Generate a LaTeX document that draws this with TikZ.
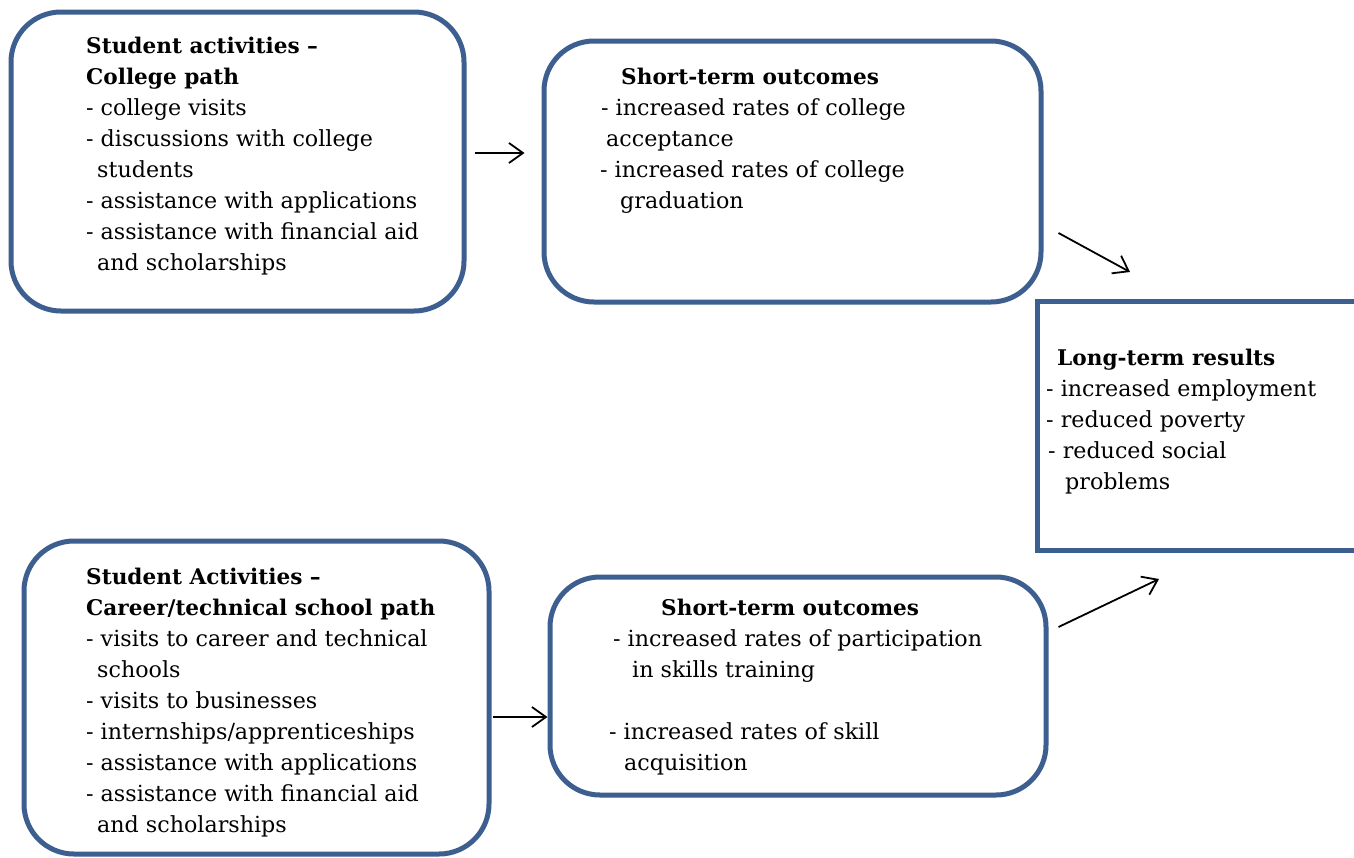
\documentclass[tikz,border=0pt]{standalone}
\usepackage{fontspec}
\setmainfont{DejaVu Serif}
\usetikzlibrary{arrows.meta}
\definecolor{boxblue}{RGB}{60,95,143}
\newcommand{\boxtitle}[1]{{\fontsize{21.6}{31}\selectfont\bfseries #1}}
\begin{document}
\begin{tikzpicture}[x=1pt,y=-1pt,
  box/.style={draw=boxblue, line width=5pt, rounded corners=50pt, fill=white, inner sep=0pt},
  sqbox/.style={draw=boxblue, line width=5pt, fill=white, inner sep=0pt},
  txt/.style={anchor=north west, inner sep=0pt, align=left, font=\fontsize{22.2}{31}\selectfont},
  arr/.style={-{Straight Barb[length=14pt,width=20pt]}, line width=1.8pt, black}]
\clip (0,0) rectangle (1354,857);
\fill[white] (0,0) rectangle (1354,857);
% boxes
\node[box, minimum width=453pt, minimum height=299pt] (b1) at (237.5,161.5) {};
\node[box, minimum width=497pt, minimum height=261pt] (b2) at (792.5,171.5) {};
\node[sqbox, minimum width=363pt, minimum height=249pt] (b3) at (1218.5,425.5) {};
\node[box, minimum width=465pt, minimum height=313pt] (b4) at (256.5,697.5) {};
\node[box, minimum width=496pt, minimum height=218pt] (b5) at (798,686) {};
% texts
\node[txt] (t1) at (86,37) {\boxtitle{Student activities --}\\
\boxtitle{College path}\\
- college visits\\
- discussions with college\\
\hspace*{11pt}students\\
- assistance with applications\\
- assistance with financial aid\\
\hspace*{11pt}and scholarships};
\node[txt] (t2) at (600,68) {\hspace*{21pt}\boxtitle{Short-term outcomes}\\
\hspace*{1pt}- increased rates of college\\
\hspace*{6pt}acceptance\\
- increased rates of college\\
\hspace*{20pt}graduation};
\node[txt] (t3) at (1046,349) {\hspace*{11pt}\boxtitle{Long-term results}\\
- increased employment\\
- reduced poverty\\
\hspace*{2pt}- reduced social\\
\hspace*{19pt}problems};
\node[txt] (t4) at (86,568) {\boxtitle{Student Activities --}\\
\boxtitle{Career/technical school path}\\
- visits to career and technical\\
\hspace*{11pt}schools\\
- visits to businesses\\
- internships/apprenticeships\\
- assistance with applications\\
- assistance with financial aid\\
\hspace*{11pt}and scholarships};
\node[txt] (t5) at (609,599) {\hspace*{52pt}\boxtitle{Short-term outcomes}\\
\hspace*{4pt}- increased rates of participation\\
\hspace*{23pt}in skills training\\[31pt]
- increased rates of skill\\
\hspace*{15pt}acquisition};
% arrows
\draw[arr] ([shift={(8,-8.5)}]b1.east) -- ([shift={(-17,-18.5)}]b2.west);
\draw[arr] ([shift={(15,61.5)}]b2.east) -- ([shift={(-88.5,-26.5)}]b3.north);
\draw[arr] ([shift={(1,19.5)}]b4.east) -- ([shift={(0,31)}]b5.west);
\draw[arr] ([shift={(10,-59)}]b5.east) -- ([shift={(-59.5,26.5)}]b3.south);
\end{tikzpicture}
\end{document}
